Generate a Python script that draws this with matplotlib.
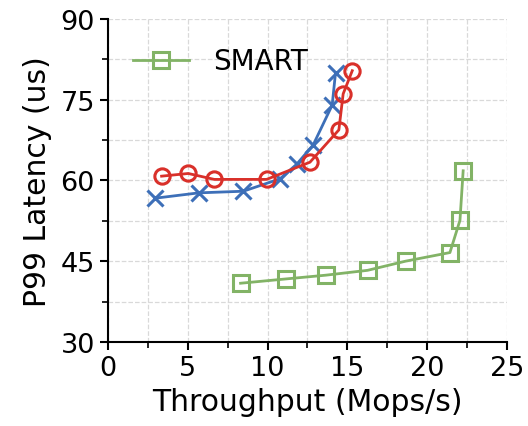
import matplotlib
matplotlib.use("Agg")
import matplotlib.pyplot as plt
from matplotlib.ticker import MultipleLocator

blue_x = [2.94, 5.70, 8.48, 10.78, 11.82, 12.86, 14.05, 14.26]
blue_y = [56.7, 57.7, 58.0, 60.3, 63.0, 66.6, 74.0, 80.0]

red_x = [3.36, 5.03, 6.66, 9.94, 12.66, 14.47, 14.74, 15.31]
red_y = [60.8, 61.3, 60.2, 60.2, 63.4, 69.4, 76.1, 80.4]

smart_x = [8.31, 11.15, 13.66, 16.27, 18.65, 21.43, 22.06, 22.26]
smart_y = [40.9, 41.7, 42.4, 43.3, 45.0, 46.6, 52.6, 61.8]

fig = plt.figure(figsize=(5.28, 4.27), dpi=100)
ax = fig.add_axes([0.2045, 0.197, 0.7555, 0.756])

ax.plot(blue_x, blue_y, color='#3d6fb8', lw=2.0, marker='x', ms=11, mew=2.2, zorder=3)
ax.plot(red_x, red_y, color='#d9302a', lw=2.0, marker='o', ms=11, mew=2.2,
        markerfacecolor='none', zorder=3)
ax.plot(smart_x, smart_y, color='#82b366', lw=2.0, marker='s', ms=11, mew=2.2,
        markerfacecolor='none', label='SMART', zorder=3)

ax.set_xlim(0, 25)
ax.set_ylim(30, 90)
ax.xaxis.set_major_locator(MultipleLocator(5))
ax.xaxis.set_minor_locator(MultipleLocator(2.5))
ax.yaxis.set_major_locator(MultipleLocator(15))
ax.yaxis.set_minor_locator(MultipleLocator(7.5))
ax.grid(True, which='both', linestyle='--', color='#d9d9d9', lw=0.9, zorder=0)
ax.set_axisbelow(True)
for s in ['top', 'right']:
    ax.spines[s].set_visible(False)
for s in ['left', 'bottom']:
    ax.spines[s].set_linewidth(1.5)
ax.tick_params(which='major', length=6, width=1.5, labelsize=19.5)
ax.tick_params(which='minor', length=4, width=1.2)

ax.set_xlabel('Throughput (Mops/s)', fontsize=21.5, labelpad=4)
ax.set_ylabel('P99 Latency (us)', fontsize=21.5, labelpad=6)

ax.legend(loc='upper left', frameon=False, fontsize=20, handlelength=2.0,
          handletextpad=0.9, bbox_to_anchor=(0.0, 0.99))

fig.savefig('out.png', dpi=100)
